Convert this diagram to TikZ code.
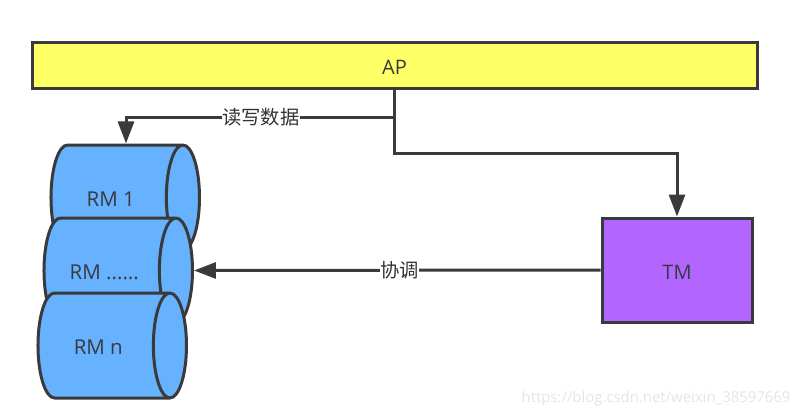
\documentclass[tikz,border=0pt]{standalone}
\usepackage{fontspec}
\setmainfont{Open Sans}
\newfontfamily\cjkfont{Noto Sans CJK SC}
\definecolor{inkgray}{RGB}{58, 58, 58}
\definecolor{apyellow}{RGB}{255, 255, 102}
\definecolor{rmblue}{RGB}{102, 178, 255}
\definecolor{tmpurple}{RGB}{178, 102, 255}
\usetikzlibrary{arrows.meta, positioning, shapes.geometric, calc}
\tikzset{
	flowbox/.style={rectangle, draw=inkgray, line width=3pt, align=center, text=inkgray, text height=18pt, text depth=0pt, font=\fontsize{20}{24}\selectfont},
	apbox/.style={flowbox, fill=apyellow, minimum width=725pt, minimum height=46pt},
	tmbox/.style={flowbox, fill=tmpurple, minimum width=150pt, minimum height=104pt},
	rmdisk/.style={cylinder, aspect=1.4, draw=inkgray, fill=rmblue, line width=3pt, text=inkgray, text height=17pt, text depth=0pt, minimum width=105pt, minimum height=148.5pt, font=\fontsize{20.5}{24}\selectfont},
	arrow/.style={-{Triangle[length=22pt, width=16pt]}, line width=3pt, draw=inkgray},
	edgetext/.style={fill=white, inner sep=0.5pt, text=black!80, font=\cjkfont\fontsize{19.3}{23}\selectfont},
	watermark/.style={text=black!10, font=\fontsize{14.9}{18}\selectfont},
}
\begin{document}
\begin{tikzpicture}[x=1pt, y=-1pt]
		\useasboundingbox (0,0) rectangle (802,417);
		\node[apbox] (ap) at (394.5,66) {AP};
		\node[tmbox] (tm) at (677,270) {TM};
		\node[rmdisk] (rmone) at (113.3,197.5) {RM 1\kern5pt};
		\node[rmdisk] (rmdots) at (106.3,270.5) {RM ......\kern4pt};
		\node[rmdisk] (rmn) at (100.3,345.5) {RM n\kern4pt};
		\coordinate (readbend) at (394.5,117);
		\coordinate (tmbend) at (394.5,153);
		\draw[arrow] (ap.south) -- (readbend) -| ($(rmone.north)+(12.7,0)$) node[pos=0.249, edgetext] (readlabel) {读写数据};
		\draw[arrow] (ap.south) -- (tmbend) -| (tm.north);
		\draw[arrow] (tm.west) -- (rmdots.east) node[pos=0.494, edgetext] (synclabel) {协调};
		\node[watermark, anchor=east] (mark) at (794,399) {https://blog.csdn.net/weixin\_38597669};
	\end{tikzpicture}
\end{document}
